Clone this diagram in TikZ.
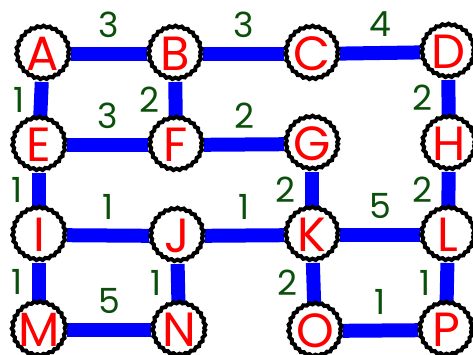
\documentclass[tikz,border=0pt]{standalone}
\usepackage{fontspec}
\setmainfont{Poppins}
\usetikzlibrary{backgrounds,decorations.pathmorphing}
\definecolor{RoadBlue}{RGB}{0,0,255}
\definecolor{TownRed}{RGB}{255,0,0}
\definecolor{CostGreen}{RGB}{10,80,10}

\begin{document}
\begin{tikzpicture}[
  x=0.75pt, y=-0.75pt,
  town/.style={circle, draw=black, line width=3pt, fill=white, minimum size=39pt, inner sep=0pt,
    font=\fontsize{36}{36}\selectfont, text=TownRed,
    decorate, decoration={snake, amplitude=0.6pt, segment length=4.6pt}},
  road/.style={line width=10.5pt, draw=RoadBlue},
  cost/.style={font=\fontsize{26}{26}\selectfont, text=CostGreen, inner sep=0pt}
]
\useasboundingbox (0,0) rectangle (473,354);

% towns
\node[town] (A) at (43,54) {A};
\node[town] (B) at (175,54) {B};
\node[town] (C) at (312,54) {C};
\node[town] (D) at (448,52) {D};
\node[town] (E) at (39,145) {E};
\node[town] (F) at (176,145) {F};
\node[town] (G) at (312,144) {G};
\node[town] (H) at (449,144) {H};
\node[town] (I) at (39,235) {I};
\node[town] (J) at (177,236) {J};
\node[town] (K) at (312,235) {K};
\node[town] (L) at (448,235) {L};
\node[town] (M) at (39,330) {M};
\node[town] (N) at (179,330) {N};
\node[town] (O) at (315,331) {O};
\node[town] (P) at (446,330) {P};

\begin{scope}[on background layer]
\fill[white] (0,0) rectangle (473,354);
% horizontal roads
\draw[road] (A) -- node[cost, above=7pt] {3} (B);
\draw[road] (B) -- node[cost, above=7pt] {3} (C);
\draw[road] (C) -- node[cost, above=7pt] {4} (D);
\draw[road] (E) -- node[cost, above=7pt] {3} (F);
\draw[road] (F) -- node[cost, above=7pt] {2} (G);
\draw[road] (I) -- node[cost, above=7pt] {1} (J);
\draw[road] (J) -- node[cost, above=7pt] {1} (K);
\draw[road] (K) -- node[cost, above=7pt] {5} (L);
\draw[road] (M) -- node[cost, above=7pt] {5} (N);
\draw[road] (O) -- node[cost, above=7pt] {1} (P);
% vertical roads
\draw[road] (A) -- node[cost, left=7pt] {1} (E);
\draw[road] (B) -- node[cost, left=7pt] {2} (F);
\draw[road] (D) -- node[cost, left=7pt] {2} (H);
\draw[road] (E) -- node[cost, left=7pt] {1} (I);
\draw[road] (G) -- node[cost, left=7pt] {2} (K);
\draw[road] (H) -- node[cost, left=7pt] {2} (L);
\draw[road] (I) -- node[cost, left=7pt] {1} (M);
\draw[road] (J) -- node[cost, left=7pt] {1} (N);
\draw[road] (K) -- node[cost, left=7pt] {2} (O);
\draw[road] (L) -- node[cost, left=7pt] {1} (P);
\end{scope}
\end{tikzpicture}
\end{document}
